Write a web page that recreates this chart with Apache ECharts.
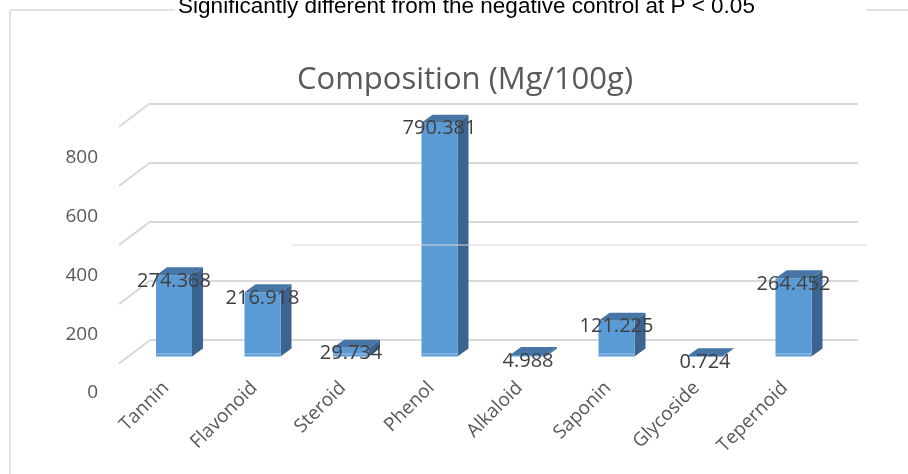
<!DOCTYPE html>
<html>
<head>
<meta charset="utf-8">
<style>
  html, body { margin: 0; padding: 0; background: #ffffff; }
  #chart { width: 908px; height: 474px; }
</style>
<script src="https://cdn.jsdelivr.net/npm/echarts@6.0.0/dist/echarts.min.js"></script>
</head>
<body>
<div id="chart"></div>
<script>
// Phytochemical composition, mg per 100 g
const categories = ['Tannin', 'Flavonoid', 'Steroid', 'Phenol', 'Alkaloid', 'Saponin', 'Glycoside', 'Tepernoid'];
const values = [274.368, 216.918, 29.734, 790.381, 4.988, 121.225, 0.724, 264.452];
const yTicks = [0, 200, 400, 600, 800];

// 3D look: offset of the bar front from the back wall, and depth of faces
const BAR_FRONT_DX = -20.25, BAR_FRONT_DY = 16.5;
const BAR_HALF = 18, BAR_DEPTH_X = 11, BAR_DEPTH_Y = -8;
const WALL_DX = -31, WALL_DY = 23.5;

const FRONT = '#5b9bd5', SIDE = '#3b6590', TOP = '#4676a6';
const GRID_COLOR = '#d9d9d9';

function renderBar(params, api) {
  const idx = api.value(0);
  const v = api.value(1);
  const base = api.coord([idx, 0]);
  const top = api.coord([idx, v]);
  const cx = base[0] + BAR_FRONT_DX;
  const yb = base[1] + BAR_FRONT_DY;
  const yt = top[1] + BAR_FRONT_DY;
  const xl = cx - BAR_HALF, xr = cx + BAR_HALF;
  const children = [
    { type: 'polygon', shape: { points: [[xr, yt], [xr + BAR_DEPTH_X, yt + BAR_DEPTH_Y], [xr + BAR_DEPTH_X, yb + BAR_DEPTH_Y], [xr, yb]] }, style: { fill: SIDE } },
    { type: 'rect', shape: { x: xl, y: yt, width: xr - xl, height: Math.max(yb - yt, 0.5) }, style: { fill: FRONT } },
    { type: 'polygon', shape: { points: [[xl, yt], [xl + BAR_DEPTH_X, yt + BAR_DEPTH_Y], [xr + BAR_DEPTH_X, yt + BAR_DEPTH_Y], [xr, yt]] }, style: { fill: TOP } }
  ];
  if (yb - yt > 6) {
    children.push({ type: 'line', shape: { x1: xl, y1: yb - 2.5, x2: xr, y2: yb - 2.5 }, style: { stroke: 'rgba(255,255,255,0.45)', lineWidth: 1 } });
  }
  children.push({
    type: 'text',
    style: {
      x: cx, y: yt + 6,
      text: String(values[idx]),
      align: 'center', verticalAlign: 'middle',
      fill: '#404040', font: '20px "Open Sans"'
    },
    z2: 10
  });
  return { type: 'group', children: children };
}

function renderWallEdge(params, api) {
  const y = api.coord([0, api.value(0)])[1];
  const x0 = params.coordSys.x;
  return {
    type: 'line',
    shape: { x1: x0 + WALL_DX, y1: y + WALL_DY, x2: x0, y2: y },
    style: { stroke: GRID_COLOR, lineWidth: 2 }
  };
}

const chart = echarts.init(document.getElementById('chart'), null, { renderer: 'canvas' });

chart.setOption({
  animation: false,
  backgroundColor: '#ffffff',
  graphic: [
    { type: 'line', shape: { x1: 10, y1: 10, x2: 175, y2: 10 }, style: { stroke: GRID_COLOR, lineWidth: 1.5 } },
    { type: 'line', shape: { x1: 866, y1: 10, x2: 908, y2: 10 }, style: { stroke: GRID_COLOR, lineWidth: 1.5 } },
    { type: 'line', shape: { x1: 10, y1: 10, x2: 10, y2: 474 }, style: { stroke: GRID_COLOR, lineWidth: 1.5 } },
    { type: 'line', shape: { x1: 292, y1: 245, x2: 867, y2: 245 }, style: { stroke: GRID_COLOR, lineWidth: 1 }, z: 100 },
    {
      type: 'text', x: 466.5, y: 7, z: 100,
      style: {
        text: 'Significantly different from the negative control at P < 0.05',
        align: 'center', verticalAlign: 'middle',
        fill: '#000000', font: '22.5px "Liberation Sans"'
      }
    },
    {
      type: 'text', x: 465, y: 80, z: 100,
      style: {
        text: 'Composition (Mg/100g)',
        align: 'center', verticalAlign: 'middle',
        fill: '#595959', font: '31px "Open Sans"'
      }
    }
  ],
  grid: [
    // back wall of the plot
    { left: 150, right: 50, top: 103.3, bottom: 134 },
    // front plane: carries tick and category labels
    { left: 121.8, right: 79, top: 158, bottom: 81 }
  ],
  xAxis: [
    {
      gridIndex: 0, type: 'category', data: categories, boundaryGap: true,
      axisLine: { show: false }, axisTick: { show: false }, axisLabel: { show: false }
    },
    {
      gridIndex: 1, type: 'category', data: categories, boundaryGap: true,
      axisLine: { show: false }, axisTick: { show: false },
      axisLabel: {
        rotate: 45, margin: -8, interval: 0,
        color: '#595959', fontFamily: 'Open Sans', fontSize: 19
      }
    }
  ],
  yAxis: [
    {
      gridIndex: 0, type: 'value', min: 0, max: 800, interval: 200,
      axisLine: { show: false }, axisTick: { show: false }, axisLabel: { show: false },
      splitLine: { show: true, lineStyle: { color: GRID_COLOR, width: 2 } }
    },
    {
      gridIndex: 1, type: 'value', min: 0, max: 800, interval: 200,
      axisLine: { show: false }, axisTick: { show: false },
      splitLine: { show: false },
      axisLabel: { margin: 23.8, color: '#595959', fontFamily: 'Open Sans', fontSize: 19 }
    }
  ],
  series: [
    {
      type: 'custom', name: 'wall', xAxisIndex: 0, yAxisIndex: 0,
      renderItem: renderWallEdge,
      data: yTicks.map(v => [v]),
      encode: { y: 0 },
      silent: true, z: 1
    },
    {
      type: 'custom', name: 'Composition', xAxisIndex: 0, yAxisIndex: 0,
      renderItem: renderBar,
      data: values.map((v, i) => [i, v]),
      encode: { x: 0, y: 1 },
      z: 5
    }
  ]
});
</script>
</body>
</html>
